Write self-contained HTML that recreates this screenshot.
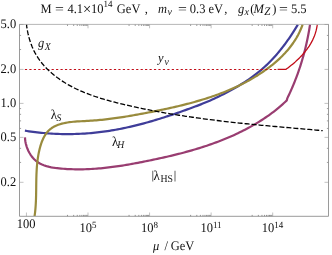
<!DOCTYPE html><html><head><meta charset="utf-8"><style>html,body{margin:0;padding:0;background:#fff}svg{display:block;will-change:transform}.t,.t text,.t tspan{font-family:"Liberation Serif",serif;text-rendering:geometricPrecision}</style></head><body><svg width="332" height="255" viewBox="0 0 332 255">
<rect width="332" height="255" fill="#fff"/>
<defs><clipPath id="c"><rect x="19.5" y="24.5" width="309.0" height="191.8"/></clipPath></defs>
<path d="M19.50,24.49h4.00 M328.50,24.49h-4.00 M19.50,69.41h4.00 M328.50,69.41h-4.00 M19.50,103.40h4.00 M328.50,103.40h-4.00 M19.50,137.39h4.00 M328.50,137.39h-4.00 M19.50,182.31h4.00 M328.50,182.31h-4.00 M26.45,216.30v-3.80 M26.45,24.50v3.80 M88.01,216.30v-3.80 M88.01,24.50v3.80 M149.57,216.30v-3.80 M149.57,24.50v3.80 M211.13,216.30v-3.80 M211.13,24.50v3.80 M272.69,216.30v-3.80 M272.69,24.50v3.80" stroke="#999" stroke-width="0.6" fill="none"/>
<path d="M19.50,35.43h1.60 M328.50,35.43h-1.60 M19.50,49.53h1.60 M328.50,49.53h-1.60 M19.50,108.57h1.60 M328.50,108.57h-1.60 M19.50,114.34h1.60 M328.50,114.34h-1.60 M19.50,120.89h1.60 M328.50,120.89h-1.60 M19.50,128.45h1.60 M328.50,128.45h-1.60 M19.50,148.33h1.60 M328.50,148.33h-1.60 M19.50,162.43h1.60 M328.50,162.43h-1.60" stroke="#777" stroke-width="0.7" fill="none"/>
<path d="M67.49,216.30v-1.40 M67.49,24.50v1.40 M73.67,216.30v-1.40 M73.67,24.50v1.40 M77.28,216.30v-1.40 M77.28,24.50v1.40 M79.84,216.30v-1.40 M79.84,24.50v1.40 M81.83,216.30v-1.40 M81.83,24.50v1.40 M83.46,216.30v-1.40 M83.46,24.50v1.40 M84.83,216.30v-1.40 M84.83,24.50v1.40 M86.02,216.30v-1.40 M86.02,24.50v1.40 M87.07,216.30v-1.40 M87.07,24.50v1.40 M129.05,216.30v-1.40 M129.05,24.50v1.40 M135.23,216.30v-1.40 M135.23,24.50v1.40 M138.84,216.30v-1.40 M138.84,24.50v1.40 M141.40,216.30v-1.40 M141.40,24.50v1.40 M143.39,216.30v-1.40 M143.39,24.50v1.40 M145.02,216.30v-1.40 M145.02,24.50v1.40 M146.39,216.30v-1.40 M146.39,24.50v1.40 M147.58,216.30v-1.40 M147.58,24.50v1.40 M148.63,216.30v-1.40 M148.63,24.50v1.40 M190.61,216.30v-1.40 M190.61,24.50v1.40 M196.79,216.30v-1.40 M196.79,24.50v1.40 M200.40,216.30v-1.40 M200.40,24.50v1.40 M202.96,216.30v-1.40 M202.96,24.50v1.40 M204.95,216.30v-1.40 M204.95,24.50v1.40 M206.58,216.30v-1.40 M206.58,24.50v1.40 M207.95,216.30v-1.40 M207.95,24.50v1.40 M209.14,216.30v-1.40 M209.14,24.50v1.40 M210.19,216.30v-1.40 M210.19,24.50v1.40 M252.17,216.30v-1.40 M252.17,24.50v1.40 M258.35,216.30v-1.40 M258.35,24.50v1.40 M261.96,216.30v-1.40 M261.96,24.50v1.40 M264.52,216.30v-1.40 M264.52,24.50v1.40 M266.51,216.30v-1.40 M266.51,24.50v1.40 M268.14,216.30v-1.40 M268.14,24.50v1.40 M269.51,216.30v-1.40 M269.51,24.50v1.40 M270.70,216.30v-1.40 M270.70,24.50v1.40 M271.75,216.30v-1.40 M271.75,24.50v1.40" stroke="#555" stroke-width="0.65" fill="none"/>
<g clip-path="url(#c)" fill="none" stroke-linejoin="round">
<path d="M24.90,130.69 L26.95,131.02 L29.01,131.32 L31.06,131.61 L33.12,131.88 L35.18,132.14 L37.24,132.38 L39.30,132.61 L41.37,132.82 L43.43,133.01 L45.50,133.19 L47.57,133.35 L49.63,133.50 L51.70,133.63 L53.77,133.74 L55.85,133.84 L57.92,133.92 L59.99,133.99 L62.06,134.04 L64.13,134.07 L66.21,134.09 L68.28,134.09 L70.35,134.08 L72.42,134.05 L74.50,134.00 L76.57,133.94 L78.64,133.86 L80.71,133.77 L82.78,133.66 L84.84,133.53 L86.91,133.39 L88.97,133.24 L91.04,133.06 L93.10,132.87 L95.16,132.67 L97.22,132.45 L99.28,132.21 L101.33,131.96 L103.39,131.69 L105.44,131.41 L107.48,131.11 L109.53,130.79 L111.57,130.46 L113.61,130.12 L115.65,129.76 L117.69,129.38 L119.72,128.99 L121.75,128.59 L123.78,128.17 L125.81,127.74 L127.83,127.30 L129.85,126.84 L131.87,126.38 L133.89,125.90 L135.90,125.40 L137.91,124.90 L139.92,124.38 L141.93,123.86 L143.93,123.32 L145.93,122.77 L147.93,122.22 L149.93,121.65 L151.92,121.07 L153.91,120.49 L155.90,119.89 L157.88,119.29 L159.86,118.68 L161.84,118.06 L163.82,117.43 L165.80,116.80 L167.77,116.16 L169.74,115.51 L171.70,114.85 L173.67,114.19 L175.63,113.52 L177.59,112.85 L179.54,112.17 L181.49,111.49 L183.44,110.80 L185.39,110.10 L187.33,109.41 L189.28,108.71 L191.21,108.00 L193.15,107.29 L195.08,106.57 L197.01,105.85 L198.93,105.11 L200.85,104.36 L202.76,103.60 L204.67,102.82 L206.57,102.02 L208.47,101.21 L210.36,100.39 L212.24,99.55 L214.12,98.69 L216.00,97.82 L217.87,96.93 L219.73,96.03 L221.59,95.12 L223.44,94.18 L225.29,93.24 L227.13,92.28 L228.96,91.30 L230.79,90.31 L232.61,89.31 L234.42,88.29 L236.22,87.26 L238.01,86.21 L239.78,85.14 L241.55,84.06 L243.31,82.96 L245.05,81.84 L246.78,80.70 L248.49,79.55 L250.19,78.37 L251.88,77.18 L253.55,75.96 L255.20,74.72 L256.83,73.46 L258.45,72.17 L260.05,70.87 L261.63,69.54 L263.18,68.18 L264.72,66.80 L266.23,65.40 L267.73,63.97 L269.20,62.51 L270.66,61.04 L272.09,59.55 L273.50,58.03 L274.89,56.49 L276.27,54.94 L277.62,53.37 L278.96,51.77 L280.27,50.17 L281.57,48.54 L282.85,46.91 L284.10,45.25 L285.35,43.59 L286.57,41.91 L287.77,40.22 L288.96,38.52 L290.13,36.80 L291.28,35.08 L292.41,33.35 L293.53,31.61 L294.63,29.87 L295.71,28.11 L296.78,26.36 L297.83,24.59" stroke="#3f3d99" stroke-width="2.2"/>
<path d="M24.99,137.43 L25.10,139.31 L25.34,141.24 L25.72,143.19 L26.22,145.16 L26.83,147.12 L27.57,149.06 L28.41,150.95 L29.37,152.79 L30.42,154.56 L31.58,156.24 L32.83,157.81 L34.16,159.25 L35.59,160.56 L37.09,161.73 L38.67,162.78 L40.32,163.71 L42.03,164.53 L43.79,165.25 L45.60,165.88 L47.46,166.43 L49.36,166.90 L51.28,167.30 L53.23,167.64 L55.21,167.94 L57.19,168.19 L59.18,168.40 L61.18,168.59 L63.17,168.76 L65.16,168.90 L67.15,169.03 L69.14,169.13 L71.13,169.21 L73.11,169.27 L75.10,169.32 L77.08,169.34 L79.06,169.35 L81.04,169.33 L83.02,169.30 L85.00,169.25 L86.97,169.19 L88.95,169.10 L90.92,169.00 L92.89,168.89 L94.87,168.76 L96.84,168.61 L98.80,168.45 L100.77,168.28 L102.74,168.09 L104.70,167.89 L106.67,167.67 L108.63,167.45 L110.59,167.21 L112.55,166.96 L114.51,166.69 L116.47,166.42 L118.42,166.14 L120.38,165.84 L122.33,165.54 L124.29,165.23 L126.24,164.90 L128.19,164.57 L130.14,164.23 L132.09,163.89 L134.04,163.53 L135.98,163.17 L137.93,162.81 L139.87,162.44 L141.82,162.06 L143.76,161.67 L145.70,161.29 L147.64,160.89 L149.58,160.50 L151.52,160.10 L153.45,159.69 L155.39,159.28 L157.32,158.87 L159.26,158.45 L161.19,158.03 L163.12,157.60 L165.05,157.16 L166.97,156.72 L168.90,156.27 L170.82,155.82 L172.74,155.36 L174.66,154.89 L176.57,154.42 L178.49,153.94 L180.40,153.45 L182.31,152.95 L184.21,152.45 L186.12,151.93 L188.02,151.41 L189.91,150.88 L191.81,150.34 L193.70,149.79 L195.59,149.23 L197.47,148.66 L199.36,148.09 L201.23,147.50 L203.11,146.90 L204.98,146.29 L206.85,145.67 L208.71,145.04 L210.57,144.39 L212.43,143.74 L214.28,143.07 L216.13,142.39 L217.97,141.70 L219.81,141.00 L221.65,140.28 L223.48,139.55 L225.30,138.80 L227.12,138.05 L228.94,137.28 L230.75,136.49 L232.56,135.69 L234.36,134.88 L236.16,134.05 L237.95,133.21 L239.73,132.35 L241.51,131.47 L243.29,130.58 L245.06,129.68 L246.82,128.75 L248.58,127.82 L250.32,126.86 L252.06,125.89 L253.79,124.90 L255.51,123.90 L257.22,122.88 L258.92,121.85 L260.60,120.80 L262.27,119.73 L263.93,118.64 L265.58,117.54 L267.21,116.43 L268.82,115.29 L270.42,114.14 L272.01,112.97 L273.57,111.79 L275.12,110.59 L276.65,109.37 L278.15,108.14 L279.64,106.89 L281.11,105.62 L282.56,104.33 L283.98,103.03 L285.38,101.71 L286.76,100.37 L287.38,98.12 L288.27,96.29 L289.14,94.45 L290.00,92.60 L290.84,90.74 L291.66,88.88 L292.47,87.01 L293.26,85.13 L294.04,83.25 L294.80,81.36 L295.54,79.47 L296.27,77.57 L296.98,75.67 L297.68,73.76 L298.36,71.84 L299.02,69.92 L299.67,67.99 L300.31,66.06 L300.92,64.12 L301.53,62.18 L302.11,60.23 L302.68,58.28 L303.24,56.33 L303.78,54.36 L304.30,52.40 L304.81,50.43 L305.31,48.46 L305.79,46.48 L306.25,44.50 L306.70,42.51 L307.13,40.52 L307.55,38.53 L307.95,36.53 L308.34,34.53 L308.71,32.53 L309.07,30.52 L309.41,28.51 L309.73,26.50 L310.05,24.48" stroke="#993d71" stroke-width="2.2"/>
<path d="M34.56,216.25 L34.82,214.39 L35.05,212.53 L35.25,210.66 L35.43,208.79 L35.58,206.91 L35.71,205.04 L35.81,203.16 L35.90,201.28 L35.98,199.39 L36.04,197.50 L36.08,195.62 L36.12,193.73 L36.15,191.83 L36.18,189.94 L36.20,188.04 L36.22,186.15 L36.24,184.25 L36.27,182.35 L36.30,180.46 L36.34,178.56 L36.39,176.66 L36.45,174.76 L36.53,172.86 L36.62,170.97 L36.73,169.07 L36.86,167.17 L37.02,165.28 L37.20,163.38 L37.40,161.49 L37.64,159.60 L37.91,157.71 L38.21,155.82 L38.55,153.93 L38.93,152.05 L39.34,150.17 L39.80,148.29 L40.31,146.42 L40.87,144.57 L41.48,142.75 L42.16,140.97 L42.90,139.23 L43.71,137.54 L44.60,135.92 L45.56,134.38 L46.61,132.91 L47.75,131.53 L48.98,130.26 L50.31,129.09 L51.74,128.03 L53.26,127.08 L54.85,126.22 L56.52,125.46 L58.25,124.79 L60.03,124.19 L61.85,123.67 L63.71,123.22 L65.59,122.83 L67.49,122.50 L69.40,122.21 L71.31,121.97 L73.24,121.77 L75.16,121.60 L77.09,121.46 L79.03,121.34 L80.96,121.23 L82.89,121.13 L84.82,121.04 L86.74,120.94 L88.67,120.84 L90.58,120.72 L92.49,120.59 L94.39,120.45 L96.29,120.30 L98.18,120.14 L100.07,119.96 L101.96,119.78 L103.84,119.58 L105.71,119.38 L107.58,119.16 L109.45,118.94 L111.31,118.70 L113.18,118.46 L115.04,118.21 L116.89,117.95 L118.74,117.68 L120.60,117.40 L122.45,117.12 L124.29,116.83 L126.14,116.53 L127.99,116.23 L129.83,115.92 L131.67,115.60 L133.52,115.28 L135.36,114.95 L137.20,114.62 L139.05,114.28 L140.89,113.94 L142.74,113.59 L144.58,113.24 L146.43,112.89 L148.28,112.53 L150.13,112.17 L151.98,111.81 L153.83,111.44 L155.69,111.07 L157.54,110.69 L159.40,110.31 L161.25,109.93 L163.11,109.54 L164.97,109.15 L166.82,108.75 L168.68,108.34 L170.53,107.93 L172.39,107.51 L174.24,107.09 L176.10,106.66 L177.95,106.22 L179.80,105.78 L181.65,105.33 L183.50,104.87 L185.34,104.41 L187.18,103.93 L189.03,103.45 L190.86,102.96 L192.70,102.46 L194.53,101.95 L196.36,101.43 L198.19,100.91 L200.01,100.37 L201.83,99.82 L203.65,99.27 L205.46,98.70 L207.27,98.12 L209.07,97.54 L210.87,96.94 L212.66,96.33 L214.45,95.70 L216.23,95.07 L218.01,94.42 L219.78,93.76 L221.55,93.09 L223.31,92.41 L225.07,91.71 L226.81,91.00 L228.56,90.28 L230.29,89.54 L232.02,88.79 L233.74,88.03 L235.46,87.25 L237.16,86.45 L238.86,85.64 L240.55,84.82 L242.24,83.98 L243.91,83.12 L245.58,82.25 L247.24,81.37 L248.89,80.46 L250.53,79.54 L252.16,78.60 L253.78,77.65 L255.39,76.68 L257.00,75.69 L258.59,74.68 L260.17,73.66 L261.75,72.61 L263.31,71.55 L264.86,70.47 L266.40,69.37 L267.93,68.25 L269.44,67.12 L270.94,65.96 L272.42,64.78 L273.89,63.58 L275.34,62.36 L276.77,61.12 L278.18,59.86 L279.57,58.58 L280.94,57.27 L282.28,55.95 L283.60,54.60 L284.90,53.23 L286.16,51.84 L287.40,50.42 L288.62,48.98 L289.80,47.52 L290.95,46.03 L292.07,44.52 L293.16,42.99 L294.21,41.43 L295.23,39.85 L296.22,38.24 L297.16,36.60 L298.07,34.95 L298.94,33.26 L299.77,31.55 L300.56,29.81 L301.30,28.05 L302.00,26.26 L302.66,24.44" stroke="#998b3d" stroke-width="2.2"/>
<path d="M24.9,69.45H277.4" stroke="#c00d18" stroke-width="1.05" stroke-dasharray="2.2 2.25"/>
<path d="M277.60,69.45 L285.20,69.45 L286.08,69.27 L286.99,68.60 L287.89,67.92 L288.79,67.23 L289.69,66.54 L290.59,65.83 L291.48,65.11 L292.36,64.38 L293.24,63.64 L294.11,62.89 L294.98,62.14 L295.83,61.37 L296.68,60.59 L297.53,59.80 L298.36,59.00 L299.18,58.20 L299.99,57.38 L300.79,56.55 L301.58,55.71 L302.36,54.86 L303.13,54.00 L303.88,53.13 L304.61,52.25 L305.34,51.36 L306.05,50.46 L306.74,49.55 L307.42,48.63 L308.08,47.70 L308.72,46.76 L309.35,45.80 L309.95,44.84 L310.54,43.87 L311.11,42.88 L311.66,41.88 L312.19,40.88 L312.70,39.86 L313.18,38.83 L313.64,37.79 L314.08,36.74 L314.50,35.68 L314.89,34.61 L315.26,33.53 L315.60,32.43 L315.92,31.33 L316.21,30.21 L316.47,29.08 L316.71,27.94 L316.92,26.79 L317.10,25.63 L317.25,24.46" stroke="#c20c18" stroke-width="1.3"/>
<path d="M26.50,24.34 L26.77,26.63 L27.11,28.91 L27.51,31.18 L27.97,33.43 L28.49,35.66 L29.07,37.87 L29.72,40.06 L30.42,42.22 L31.19,44.36 L32.02,46.46 L32.92,48.54 L33.87,50.58 L34.90,52.58 L35.98,54.55 L37.13,56.47 L38.35,58.36 L39.63,60.20 L40.98,61.99 L42.38,63.74 L43.84,65.45 L45.36,67.11 L46.92,68.73 L48.53,70.30 L50.19,71.83 L51.88,73.32 L53.61,74.76 L55.37,76.16 L57.16,77.52 L58.98,78.84 L60.82,80.12 L62.68,81.35 L64.57,82.55 L66.48,83.70 L68.41,84.82 L70.36,85.91 L72.33,86.96 L74.32,87.97 L76.33,88.96 L78.35,89.91 L80.40,90.83 L82.45,91.72 L84.53,92.58 L86.61,93.41 L88.72,94.22 L90.83,95.00 L92.96,95.76 L95.09,96.50 L97.24,97.21 L99.40,97.90 L101.57,98.57 L103.74,99.22 L105.92,99.86 L108.11,100.47 L110.31,101.08 L112.51,101.66 L114.71,102.24 L116.92,102.80 L119.13,103.34 L121.35,103.88 L123.56,104.41 L125.78,104.93 L127.99,105.45 L130.21,105.95 L132.42,106.45 L134.64,106.94 L136.86,107.42 L139.08,107.89 L141.30,108.36 L143.51,108.82 L145.73,109.27 L147.95,109.71 L150.17,110.15 L152.39,110.58 L154.61,111.00 L156.84,111.42 L159.06,111.83 L161.28,112.24 L163.50,112.63 L165.73,113.03 L167.95,113.41 L170.17,113.79 L172.40,114.16 L174.62,114.53 L176.85,114.89 L179.08,115.24 L181.30,115.59 L183.53,115.94 L185.76,116.28 L187.99,116.61 L190.21,116.94 L192.44,117.26 L194.67,117.58 L196.90,117.89 L199.13,118.20 L201.36,118.50 L203.60,118.80 L205.83,119.10 L208.06,119.39 L210.29,119.67 L212.53,119.95 L214.76,120.23 L217.00,120.50 L219.23,120.77 L221.47,121.04 L223.70,121.30 L225.94,121.56 L228.18,121.81 L230.42,122.06 L232.66,122.31 L234.89,122.56 L237.13,122.80 L239.37,123.04 L241.62,123.27 L243.86,123.50 L246.10,123.73 L248.34,123.96 L250.58,124.19 L252.83,124.41 L255.07,124.63 L257.32,124.85 L259.56,125.06 L261.81,125.28 L264.06,125.49 L266.30,125.70 L268.55,125.91 L270.80,126.11 L273.05,126.32 L275.30,126.52 L277.55,126.72 L279.80,126.92 L282.05,127.12 L284.30,127.32 L286.55,127.52 L288.81,127.72 L291.06,127.92 L293.32,128.11 L295.57,128.31 L297.83,128.50 L300.08,128.70 L302.34,128.89 L304.60,129.09 L306.86,129.28 L309.12,129.47 L311.38,129.67 L313.64,129.86 L315.90,130.06 L318.16,130.26 L320.42,130.45 L322.69,130.65" stroke="#000" stroke-width="1.3" stroke-dasharray="5 2" stroke-dashoffset="0.9"/>
</g>
<path d="M19.50,24.50V216.30H328.50V24.50" fill="none" stroke="#8e8e8e" stroke-width="0.9"/>
<path d="M19.05,24.40H328.95" fill="none" stroke="#8e8e8e" stroke-width="0.65"/>
<g class="t" font-size="12.5" fill="#111">
<text transform="translate(16.20,27.69) scale(1,1.05)" text-anchor="end">5.0</text>
<text transform="translate(16.20,72.61) scale(1,1.05)" text-anchor="end">2.0</text>
<text transform="translate(16.20,106.60) scale(1,1.05)" text-anchor="end">1.0</text>
<text transform="translate(16.20,140.59) scale(1,1.05)" text-anchor="end">0.5</text>
<text transform="translate(16.20,185.51) scale(1,1.05)" text-anchor="end">0.2</text>
<text transform="translate(26.05,228.20) scale(1,1.05)" text-anchor="middle">100</text>
<text transform="translate(87.91,232.40) scale(1,1.05)" text-anchor="middle">10<tspan font-size="9" dy="-4.4">5</tspan></text>
<text transform="translate(149.47,232.40) scale(1,1.05)" text-anchor="middle">10<tspan font-size="9" dy="-4.4">8</tspan></text>
<text transform="translate(211.03,232.40) scale(1,1.05)" text-anchor="middle">10<tspan font-size="9" dy="-4.4">11</tspan></text>
<text transform="translate(272.59,232.40) scale(1,1.05)" text-anchor="middle">10<tspan font-size="9" dy="-4.4">14</tspan></text>
<text transform="translate(153.00,250.00) scale(1,1.05)" font-style="italic">μ</text>
<text transform="translate(164.50,250.00) scale(1,1.05)">/</text>
<text transform="translate(170.70,250.00) scale(1,1.05)">GeV</text>
<text transform="translate(40.40,12.90) scale(1,1.05)">M</text>
<text transform="translate(54.90,12.90) scale(1,1.05)" textLength="8.9" lengthAdjust="spacingAndGlyphs">=</text>
<text transform="translate(67.40,12.90) scale(1,1.05)">4.1</text>
<text transform="translate(82.90,14.30) scale(1,1.05)" font-size="14.5">×</text>
<text transform="translate(91.10,12.90) scale(1,1.05)">10</text>
<text transform="translate(103.50,7.30) scale(1,1.05)" font-size="9">14</text>
<text transform="translate(116.80,12.90) scale(1,1.05)">GeV</text>
<text transform="translate(144.80,12.90) scale(1,1.05)">,</text>
<text transform="translate(158.00,12.90) scale(1,1.05)" font-style="italic">m</text>
<text transform="translate(167.40,15.10) scale(1,1.05)" font-style="italic" font-size="10">ν</text>
<text transform="translate(178.00,12.90) scale(1,1.05)" textLength="8.9" lengthAdjust="spacingAndGlyphs">=</text>
<text transform="translate(189.80,12.90) scale(1,1.05)">0.3</text>
<text transform="translate(208.50,12.90) scale(1,1.05)">eV</text>
<text transform="translate(224.30,12.90) scale(1,1.05)">,</text>
<text transform="translate(238.00,12.90) scale(1,1.05)" font-style="italic">g</text>
<text transform="translate(244.40,15.10) scale(1,1.05)" font-style="italic" font-size="10">x</text>
<text transform="translate(250.20,12.90) scale(1,1.05)">(</text>
<text transform="translate(253.40,12.90) scale(1,1.05)" font-style="italic">M</text>
<text transform="translate(264.20,15.10) scale(1,1.05)" font-style="italic" font-size="11">Z</text>
<text transform="translate(272.20,12.90) scale(1,1.05)">)</text>
<text transform="translate(279.10,12.90) scale(1,1.05)" textLength="8.9" lengthAdjust="spacingAndGlyphs">=</text>
<text transform="translate(290.90,12.90) scale(1,1.05)">5.5</text>
<text transform="translate(37.90,46.70) scale(1,1.05)" font-style="italic">g</text>
<text transform="translate(44.70,49.60) scale(1,1.05)" font-style="italic" font-size="9.7">X</text>
<text transform="translate(158.10,62.00) scale(1,1.05)" font-style="italic">y</text>
<text transform="translate(164.60,64.60) scale(1,1.05)" font-style="italic" font-size="9.7">ν</text>
<text transform="translate(50.70,118.70) scale(1,1.05)" font-size="13">λ</text>
<text transform="translate(56.60,121.20) scale(1,1.05)" font-style="italic" font-size="9.7">S</text>
<text transform="translate(111.90,145.50) scale(1,1.05)" font-size="13">λ</text>
<text transform="translate(117.20,147.70) scale(1,1.05)" font-style="italic" font-size="9.7">H</text>
<text transform="translate(153.60,179.80) scale(1,1.05)" font-size="13">λ</text>
<text transform="translate(160.50,181.80) scale(1,1.05)" font-size="9.8">HS</text>
<path d="M152.7,170.8V181.6M175,170.8V181.6" stroke="#888" stroke-width="1.3" fill="none"/>
</g>
</svg></body></html>
